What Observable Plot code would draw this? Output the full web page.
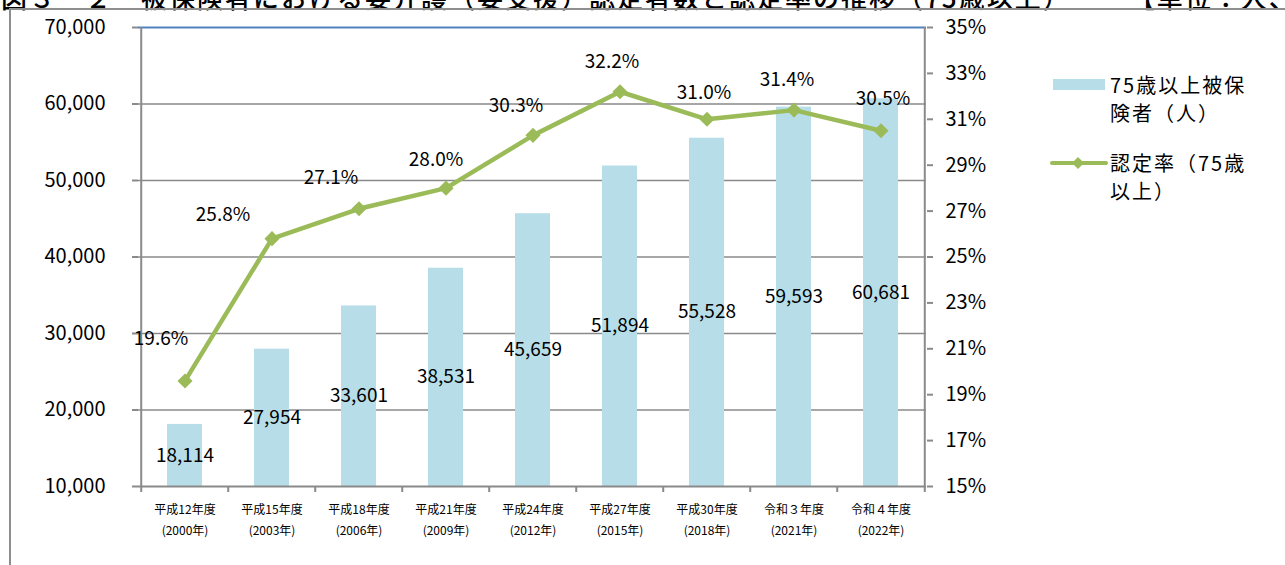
<!DOCTYPE html>
<html><head><meta charset="utf-8">
<script src="https://cdn.jsdelivr.net/npm/d3@7"></script>
<script src="https://cdn.jsdelivr.net/npm/@observablehq/plot@0.6"></script>
<style>
html,body{margin:0;padding:0;width:1285px;height:565px;overflow:hidden;background:#fff;font-family:"Noto Sans CJK JP",sans-serif;color:#000;}
#wrap{position:relative;width:1285px;height:565px;overflow:hidden;}
#title{position:absolute;left:1px;top:-16px;font-size:26px;line-height:26px;height:26px;white-space:nowrap;font-weight:500;letter-spacing:2px;}
#frame{position:absolute;left:9px;top:8px;width:1290px;height:600px;border-top:2px solid #8e8e8e;border-left:2px solid #8e8e8e;pointer-events:none;background:transparent;}
#chart{position:absolute;left:0;top:0;}
.lg{position:absolute;font-size:20px;line-height:28px;letter-spacing:2px;white-space:nowrap;}
</style></head>
<body><div id="wrap">
<div id="title"></div>
<div id="frame"></div>
<div id="chart"></div>
<svg style="position:absolute;left:1050px;top:150px" width="60" height="26">
  <line x1="2" y1="13" x2="56" y2="13" stroke="#9bbb59" stroke-width="4" stroke-linecap="round"/>
  <path d="M28 7 L34 13 L28 19 L22 13 Z" fill="#9bbb59"/>
</svg>
<div style="position:absolute;left:1053px;top:79px;width:52px;height:11px;background:#b7dee8"></div>
<div class="lg" id="lg1" style="left:1110px;top:71px"></div>
<div class="lg" id="lg2" style="left:1110px;top:149px"></div>
</div>
<script>
const titleText = "図３－２　被保険者における要介護（要支援）認定者数と認定率の推移（75歳以上）　　　【単位：人、％】";
const categories = ["平成12年度\n(2000年)","平成15年度\n(2003年)","平成18年度\n(2006年)","平成21年度\n(2009年)","平成24年度\n(2012年)","平成27年度\n(2015年)","平成30年度\n(2018年)","令和３年度\n(2021年)","令和４年度\n(2022年)"];
const insured = [18114, 27954, 33601, 38531, 45659, 51894, 55528, 59593, 60681];
const rates = [19.6, 25.8, 27.1, 28.0, 30.3, 32.2, 31.0, 31.4, 30.5];
const leftTicks = [10000, 20000, 30000, 40000, 50000, 60000, 70000];
const rightTicks = [15, 17, 19, 21, 23, 25, 27, 29, 31, 33, 35];
const legendBar = "75歳以上被保<br>険者（人）";
const legendLine = "認定率（75歳<br>以上）";

document.getElementById("title").textContent = titleText;
document.getElementById("lg1").innerHTML = legendBar;
document.getElementById("lg2").innerHTML = legendLine;

// secondary axis mapping: 15%..35% onto 10,000..70,000
const toY = r => 10000 + (r - 15) * 3000;
const rows = categories.map((c, i) => ({cat: c, value: insured[i], rate: rates[i]}));

// label placement offsets for rate labels (layout only)
const rateLabelOffset = [[-24,-42],[-49,-24],[-28,-31],[-10,-28],[-17,-29],[-8,-30],[-3,-26],[-7,-30],[2,-32]];

const W = 1285, H = 565, mL = 138, mR = 359, mT = 27, mB = 79;
const step = (W - mL - mR) / categories.length;
const gray = "#8a8a8a";
const green = "#9bbb59";

const marks = [
  Plot.ruleY(leftTicks.slice(1, -1), {stroke: gray, strokeWidth: 1.6}),
  Plot.barY(rows, {x: "cat", y1: 10000, y2: "value", fill: "#b7dee8"}),
  Plot.ruleY([70000], {stroke: "#4f81bd", strokeWidth: 2}),
  Plot.ruleY([10000], {stroke: gray, strokeWidth: 2}),
  Plot.ruleX([categories[0]], {y1: 10000, y2: 70000, dx: -step/2, stroke: gray, strokeWidth: 2}),
  Plot.ruleX([categories[categories.length-1]], {y1: 10000, y2: 70000, dx: step/2, stroke: gray, strokeWidth: 2}),
  Plot.axisY(leftTicks, {anchor: "left", label: null, tickSize: 6, tickPadding: 27, stroke: gray, strokeWidth: 2, fill: "#000", fontSize: 20, tickFormat: d3.format(",")}),
  Plot.axisY(rightTicks.map(toY), {anchor: "right", label: null, tickSize: 6, tickPadding: 13, stroke: gray, strokeWidth: 2, fill: "#000", fontSize: 20, tickFormat: v => `${Math.round((v - 10000) / 3000 + 15)}%`}),
  Plot.axisX({label: null, tickSize: 0, tickPadding: 12, fontSize: 12, lineHeight: 1.8, fill: "#000"}),
  Plot.axisX({label: null, tickSize: 6, tickFormat: () => "", dx: -step/2, stroke: gray, strokeWidth: 2}),
  Plot.axisX([categories[categories.length-1]], {label: null, tickSize: 6, tickFormat: () => "", dx: step/2, stroke: gray, strokeWidth: 2}),
  Plot.line(rows, {x: "cat", y: d => toY(d.rate), stroke: green, strokeWidth: 4.5}),
  Plot.dot(rows, {x: "cat", y: d => toY(d.rate), symbol: "diamond2", r: 6.8, fill: green, stroke: "none"}),
  Plot.text(rows, {x: "cat", y: d => (d.value + 10000) / 2, text: d => d3.format(",")(d.value), fontSize: 19, fill: "#000"}),
  ...rows.map((d, i) => Plot.text([d], {x: "cat", y: r => toY(r.rate), text: r => r.rate.toFixed(1) + "%", dx: rateLabelOffset[i][0], dy: rateLabelOffset[i][1], fontSize: 19, fill: "#000"}))
];

const chart = Plot.plot({
  width: W, height: H,
  marginLeft: mL, marginRight: mR, marginTop: mT, marginBottom: mB,
  x: {domain: categories, paddingInner: 0.6, paddingOuter: 0.3, axis: null},
  y: {domain: [10000, 70000], axis: null},
  style: {fontFamily: '"Noto Sans CJK JP", sans-serif', fontSize: "19px", background: "transparent", overflow: "visible", color: "#000"},
  marks
});
document.getElementById("chart").appendChild(chart);
</script>
</body></html>
